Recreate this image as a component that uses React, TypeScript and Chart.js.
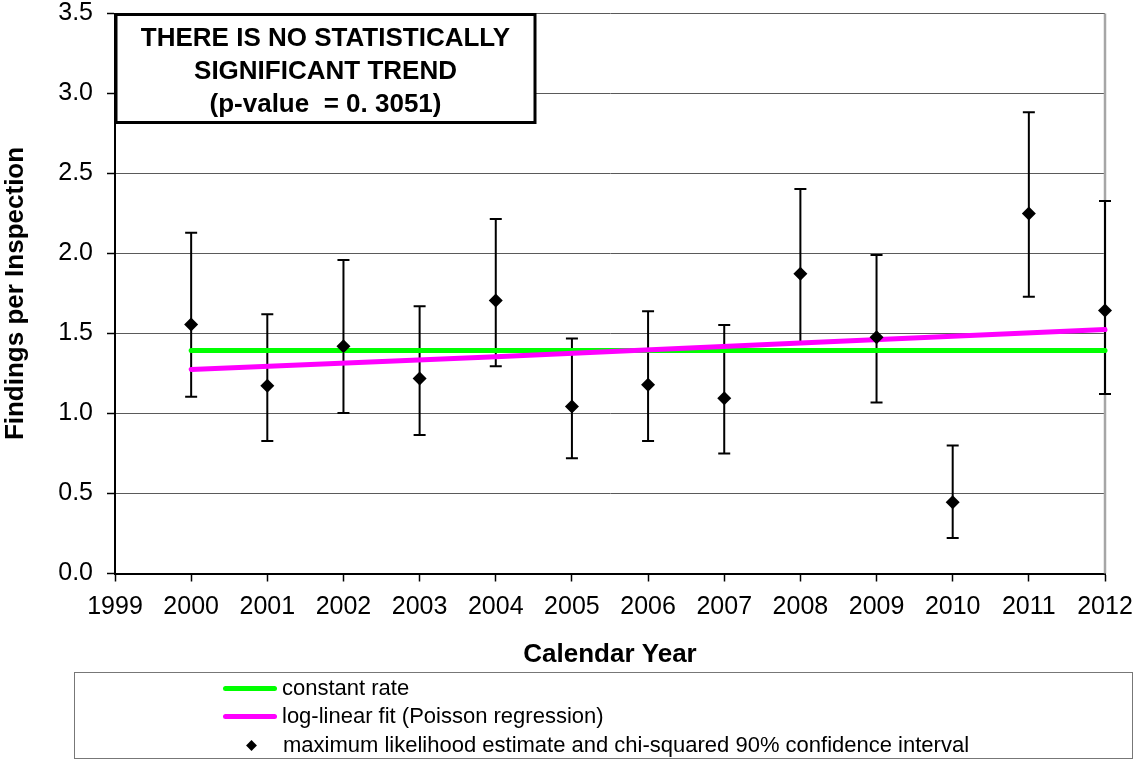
import React, { useEffect, useRef } from "react";
import { Chart, registerables } from "chart.js";

Chart.register(...registerables);

// ---- data ----
const years = [2000, 2001, 2002, 2003, 2004, 2005, 2006, 2007, 2008, 2009, 2010, 2011, 2012];
const estimate = [1.557, 1.174, 1.42, 1.218, 1.707, 1.043, 1.18, 1.095, 1.874, 1.476, 0.445, 2.25, 1.644];
const upper = [2.13, 1.62, 1.959, 1.67, 2.216, 1.468, 1.639, 1.553, 2.403, 1.99, 0.8, 2.883, 2.328];
const lower = [1.105, 0.828, 1.003, 0.866, 1.295, 0.72, 0.828, 0.75, 1.445, 1.069, 0.222, 1.73, 1.122];

const constYears = [2000, 2012];
const constRate = [1.393, 1.393];

const fitYears = [2000, 2004, 2008, 2012];
const fitRate = [1.275, 1.355, 1.44, 1.525];

const xTickLabels = ["1999", "2000", "2001", "2002", "2003", "2004", "2005", "2006", "2007", "2008", "2009", "2010", "2011", "2012"];
const yTickValues = [0, 0.5, 1, 1.5, 2, 2.5, 3, 3.5];

const boxLines = ["THERE IS NO STATISTICALLY", "SIGNIFICANT TREND", "(p-value  = 0. 3051)"];
const legendLabels = [
  "constant rate",
  "log-linear fit (Poisson regression)",
  "maximum likelihood estimate and chi-squared 90% confidence interval",
];

const FONT = "'Liberation Sans', Arial, Helvetica, sans-serif";
const GREEN = "#00ff00";
const MAGENTA = "#ff00ff";

const errorBarsPlugin = {
  id: "errorBars",
  beforeDatasetsDraw(chart: any) {
    const { ctx, scales, chartArea } = chart;
    const x = scales.x;
    const y = scales.y;
    ctx.save();
    // right border of plot area
    ctx.strokeStyle = "#a6a6a6";
    ctx.lineWidth = 2.5;
    ctx.beginPath();
    ctx.moveTo(chartArea.right, chartArea.top);
    ctx.lineTo(chartArea.right, chartArea.bottom);
    ctx.stroke();

    ctx.strokeStyle = "#000";
    ctx.lineWidth = 2;
    for (let i = 0; i < years.length; i++) {
      const px = x.getPixelForValue(years[i]);
      const pu = y.getPixelForValue(upper[i]);
      const pl = y.getPixelForValue(lower[i]);
      ctx.beginPath();
      ctx.moveTo(px, pu);
      ctx.lineTo(px, pl);
      ctx.moveTo(px - 6, pu);
      ctx.lineTo(px + 6, pu);
      ctx.moveTo(px - 6, pl);
      ctx.lineTo(px + 6, pl);
      ctx.stroke();
    }
    ctx.restore();
  },
};

const boxPlugin = {
  id: "annotationBox",
  afterDraw(chart: any) {
    const { ctx, chartArea } = chart;
    ctx.save();
    const bx = chartArea.left + 1;
    const by = chartArea.top + 1;
    const bw = 419;
    const bh = 108;
    ctx.fillStyle = "#fff";
    ctx.fillRect(bx, by, bw, bh);
    ctx.strokeStyle = "#000";
    ctx.lineWidth = 3;
    ctx.strokeRect(bx, by, bw, bh);
    ctx.fillStyle = "#000";
    ctx.font = `bold 26px ${FONT}`;
    ctx.textAlign = "center";
    ctx.textBaseline = "middle";
    const cx = bx + bw / 2;
    boxLines.forEach((t, i) => {
      ctx.fillText(t, cx, by + 24 + i * 33);
    });
    ctx.restore();
  },
};

export default function App() {
  const canvasRef = useRef<HTMLCanvasElement | null>(null);

  useEffect(() => {
    if (!canvasRef.current) return;
    const chart = new Chart(canvasRef.current, {
      type: "scatter",
      data: {
        datasets: [
          {
            label: legendLabels[2],
            data: years.map((yr, i) => ({ x: yr, y: estimate[i] })),
            showLine: false,
            pointStyle: "rectRot",
            pointRadius: 7,
            pointHoverRadius: 7,
            backgroundColor: "#000",
            borderColor: "#000",
            borderWidth: 0,
            clip: false,
          } as any,
          {
            label: legendLabels[1],
            data: fitYears.map((yr, i) => ({ x: yr, y: fitRate[i] })),
            showLine: true,
            borderColor: MAGENTA,
            borderWidth: 5,
            pointRadius: 0,
            borderCapStyle: "round",
            clip: false,
          } as any,
          {
            label: legendLabels[0],
            data: constYears.map((yr, i) => ({ x: yr, y: constRate[i] })),
            showLine: true,
            borderColor: GREEN,
            borderWidth: 5,
            pointRadius: 0,
            borderCapStyle: "round",
            clip: false,
          } as any,
        ],
      },
      options: {
        responsive: false,
        animation: false,
        maintainAspectRatio: false,
        layout: { padding: { left: 0, top: 13.5, right: 28, bottom: 89 } },
        plugins: {
          legend: { display: false },
          tooltip: { enabled: false },
        },
        scales: {
          x: {
            type: "linear",
            min: 1999,
            max: 2012,
            afterBuildTicks: (s: any) => {
              s.ticks = xTickLabels.map((l) => ({ value: Number(l) }));
            },
            ticks: {
              autoSkip: false,
              maxRotation: 0,
              minRotation: 0,
              color: "#000",
              padding: 13,
              font: { family: FONT, size: 25, lineHeight: 1 },
              callback: (_v: any, i: number) => xTickLabels[i],
            },
            grid: {
              drawOnChartArea: false,
              drawTicks: true,
              tickLength: 8,
              tickColor: "#000",
              tickWidth: 1.5,
            },
            border: { color: "#000", width: 2 },
            title: {
              display: true,
              text: "Calendar Year",
              color: "#000",
              font: { family: FONT, size: 26, weight: "bold", lineHeight: 1.2 },
              padding: { top: 0, bottom: 0 },
            },
            afterFit: (s: any) => {
              s.height = 96.5;
              s.paddingLeft = 0;
              s.paddingRight = 0;
            },
          } as any,
          y: {
            type: "linear",
            min: 0,
            max: 3.5,
            afterBuildTicks: (s: any) => {
              s.ticks = yTickValues.map((v) => ({ value: v }));
            },
            ticks: {
              color: "#000",
              padding: 14,
              font: { family: FONT, size: 25, lineHeight: 1 },
              callback: (v: any) => Number(v).toFixed(1),
            },
            grid: {
              color: "#5a5a5a",
              lineWidth: 1,
              tickLength: 8,
              tickColor: "#000",
              tickWidth: 1.5,
            },
            border: { color: "#000", width: 2 },
            title: {
              display: true,
              text: "Findings per Inspection",
              color: "#000",
              font: { family: FONT, size: 26, weight: "bold", lineHeight: 1.2 },
              padding: { top: 0, bottom: 0 },
            },
            afterFit: (s: any) => {
              s.width = 115;
              s.paddingTop = 0;
              s.paddingBottom = 0;
            },
          } as any,
        },
      },
      plugins: [errorBarsPlugin, boxPlugin],
    });
    return () => chart.destroy();
  }, []);

  const rowText: React.CSSProperties = {
    position: "absolute",
    left: 282,
    fontFamily: FONT,
    fontSize: 22,
    lineHeight: "26px",
    color: "#000",
    whiteSpace: "nowrap",
  };
  const sample = (color: string, top: number): React.CSSProperties => ({
    position: "absolute",
    left: 223,
    top: top - 2.5,
    width: 54,
    height: 5,
    borderRadius: 3,
    background: color,
  });

  return (
    <div style={{ position: "absolute", left: 0, top: 0, width: 1133, height: 759, background: "#fff", overflow: "hidden" }}>
      <canvas ref={canvasRef} width={1133} height={759} style={{ display: "block", width: 1133, height: 759 }} />
      <div
        style={{
          position: "absolute",
          left: 74,
          top: 672,
          width: 1059,
          height: 87,
          boxSizing: "border-box",
          border: "1.5px solid #777",
        }}
      />
      <div style={sample(GREEN, 688)} />
      <div style={{ ...rowText, top: 688 - 13 }}>{legendLabels[0]}</div>
      <div style={sample(MAGENTA, 716)} />
      <div style={{ ...rowText, top: 716 - 13 }}>{legendLabels[1]}</div>
      <div
        style={{
          position: "absolute",
          left: 251 - 4.5,
          top: 745.5 - 4.5,
          width: 9,
          height: 9,
          background: "#000",
          transform: "rotate(45deg) scale(0.85)",
        }}
      />
      <div style={{ ...rowText, left: 283, top: 745 - 13 }}>{legendLabels[2]}</div>
    </div>
  );
}
